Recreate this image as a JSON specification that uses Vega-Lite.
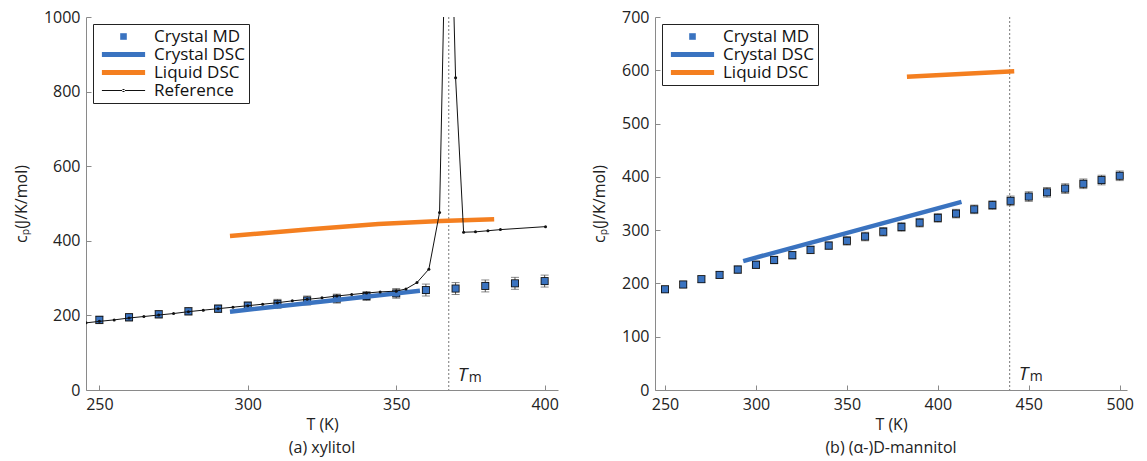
{
  "$schema": "https://vega.github.io/schema/vega-lite/v6.json",
  "padding": {"left": 13, "top": 9, "right": 5, "bottom": 5},
  "spacing": 32,
  "datasets": {
    "one": [{}],
    "mdA": [
      {"T": 250, "cp": 188, "lo": 178, "hi": 198, "series": "Crystal MD"},
      {"T": 260, "cp": 195, "lo": 185, "hi": 205, "series": "Crystal MD"},
      {"T": 270, "cp": 203, "lo": 193, "hi": 213, "series": "Crystal MD"},
      {"T": 280, "cp": 211, "lo": 201, "hi": 221, "series": "Crystal MD"},
      {"T": 290, "cp": 218, "lo": 208, "hi": 228, "series": "Crystal MD"},
      {"T": 300, "cp": 226, "lo": 216, "hi": 236, "series": "Crystal MD"},
      {"T": 310, "cp": 231, "lo": 219, "hi": 243, "series": "Crystal MD"},
      {"T": 320, "cp": 240, "lo": 228, "hi": 252, "series": "Crystal MD"},
      {"T": 330, "cp": 245, "lo": 233, "hi": 257, "series": "Crystal MD"},
      {"T": 340, "cp": 252, "lo": 240, "hi": 264, "series": "Crystal MD"},
      {"T": 350, "cp": 259, "lo": 246, "hi": 272, "series": "Crystal MD"},
      {"T": 360, "cp": 268, "lo": 252, "hi": 284, "series": "Crystal MD"},
      {"T": 370, "cp": 272, "lo": 256, "hi": 288, "series": "Crystal MD"},
      {"T": 380, "cp": 279, "lo": 263, "hi": 295, "series": "Crystal MD"},
      {"T": 390, "cp": 286, "lo": 270, "hi": 302, "series": "Crystal MD"},
      {"T": 400, "cp": 292, "lo": 276, "hi": 308, "series": "Crystal MD"}
    ],
    "dscA": [
      {"T": 294, "cp": 210, "series": "Crystal DSC"},
      {"T": 326, "cp": 238, "series": "Crystal DSC"},
      {"T": 358, "cp": 266, "series": "Crystal DSC"}
    ],
    "liqA": [
      {"T": 294, "cp": 413, "series": "Liquid DSC"},
      {"T": 320, "cp": 430, "series": "Liquid DSC"},
      {"T": 344, "cp": 445, "series": "Liquid DSC"},
      {"T": 365, "cp": 453, "series": "Liquid DSC"},
      {"T": 383, "cp": 458, "series": "Liquid DSC"}
    ],
    "refA": [
      {"T": 245.5, "cp": 180, "series": "Reference"},
      {"T": 250, "cp": 184, "series": "Reference"},
      {"T": 255, "cp": 188, "series": "Reference"},
      {"T": 260, "cp": 193, "series": "Reference"},
      {"T": 265, "cp": 197, "series": "Reference"},
      {"T": 270, "cp": 201, "series": "Reference"},
      {"T": 275, "cp": 205, "series": "Reference"},
      {"T": 280, "cp": 210, "series": "Reference"},
      {"T": 285, "cp": 214, "series": "Reference"},
      {"T": 290, "cp": 218, "series": "Reference"},
      {"T": 295, "cp": 222, "series": "Reference"},
      {"T": 300, "cp": 226, "series": "Reference"},
      {"T": 305, "cp": 230, "series": "Reference"},
      {"T": 310, "cp": 234, "series": "Reference"},
      {"T": 315, "cp": 239, "series": "Reference"},
      {"T": 320, "cp": 243, "series": "Reference"},
      {"T": 325, "cp": 247, "series": "Reference"},
      {"T": 330, "cp": 252, "series": "Reference"},
      {"T": 335, "cp": 256, "series": "Reference"},
      {"T": 340, "cp": 260, "series": "Reference"},
      {"T": 344.6, "cp": 263, "series": "Reference"},
      {"T": 350, "cp": 265, "series": "Reference"},
      {"T": 353.3, "cp": 271, "series": "Reference"},
      {"T": 357, "cp": 288, "series": "Reference"},
      {"T": 361, "cp": 324, "series": "Reference"},
      {"T": 364.6, "cp": 476, "series": "Reference"},
      {"T": 367.5, "cp": 1600, "series": "Reference"},
      {"T": 370, "cp": 837, "series": "Reference"},
      {"T": 372.7, "cp": 423, "series": "Reference"},
      {"T": 376.7, "cp": 424, "series": "Reference"},
      {"T": 380.9, "cp": 427, "series": "Reference"},
      {"T": 385.1, "cp": 430, "series": "Reference"},
      {"T": 400.3, "cp": 438, "series": "Reference"}
    ],
    "mdB": [
      {"T": 250, "cp": 189, "lo": 183, "hi": 195, "series": "Crystal MD"},
      {"T": 260, "cp": 198, "lo": 192, "hi": 204, "series": "Crystal MD"},
      {"T": 270, "cp": 208, "lo": 202, "hi": 214, "series": "Crystal MD"},
      {"T": 280, "cp": 216, "lo": 210, "hi": 222, "series": "Crystal MD"},
      {"T": 290, "cp": 226, "lo": 219, "hi": 233, "series": "Crystal MD"},
      {"T": 300, "cp": 235, "lo": 228, "hi": 242, "series": "Crystal MD"},
      {"T": 310, "cp": 244, "lo": 237, "hi": 251, "series": "Crystal MD"},
      {"T": 320, "cp": 253, "lo": 246, "hi": 260, "series": "Crystal MD"},
      {"T": 330, "cp": 263, "lo": 256, "hi": 270, "series": "Crystal MD"},
      {"T": 340, "cp": 271, "lo": 264, "hi": 278, "series": "Crystal MD"},
      {"T": 350, "cp": 280, "lo": 272, "hi": 288, "series": "Crystal MD"},
      {"T": 360, "cp": 288, "lo": 280, "hi": 296, "series": "Crystal MD"},
      {"T": 370, "cp": 297, "lo": 289, "hi": 305, "series": "Crystal MD"},
      {"T": 380, "cp": 306, "lo": 298, "hi": 314, "series": "Crystal MD"},
      {"T": 390, "cp": 314, "lo": 306, "hi": 322, "series": "Crystal MD"},
      {"T": 400, "cp": 323, "lo": 315, "hi": 331, "series": "Crystal MD"},
      {"T": 410, "cp": 331, "lo": 323, "hi": 339, "series": "Crystal MD"},
      {"T": 420, "cp": 339, "lo": 331, "hi": 347, "series": "Crystal MD"},
      {"T": 430, "cp": 347, "lo": 339, "hi": 355, "series": "Crystal MD"},
      {"T": 440, "cp": 355, "lo": 346, "hi": 364, "series": "Crystal MD"},
      {"T": 450, "cp": 363, "lo": 354, "hi": 372, "series": "Crystal MD"},
      {"T": 460, "cp": 371, "lo": 362, "hi": 380, "series": "Crystal MD"},
      {"T": 470, "cp": 378, "lo": 369, "hi": 387, "series": "Crystal MD"},
      {"T": 480, "cp": 387, "lo": 378, "hi": 396, "series": "Crystal MD"},
      {"T": 490, "cp": 394, "lo": 385, "hi": 403, "series": "Crystal MD"},
      {"T": 500, "cp": 402, "lo": 393, "hi": 411, "series": "Crystal MD"}
    ],
    "dscB": [
      {"T": 293, "cp": 242, "series": "Crystal DSC"},
      {"T": 413, "cp": 353, "series": "Crystal DSC"}
    ],
    "liqB": [
      {"T": 383, "cp": 588, "series": "Liquid DSC"},
      {"T": 442, "cp": 598, "series": "Liquid DSC"}
    ]
  },
  "config": {
    "font": "Open Sans",
    "view": {"stroke": null},
    "axis": {
      "grid": false,
      "domainColor": "#8a8a8a",
      "tickColor": "#8a8a8a",
      "tickSize": -5,
      "labelPadding": 11,
      "labelFontSize": 16,
      "labelColor": "#222",
      "titleFontSize": 16,
      "titleFontWeight": "normal",
      "titleColor": "#222",
      "format": "d"
    },
    "legend": {
      "orient": "top-left",
      "offset": 7,
      "strokeColor": "#222",
      "fillColor": "white",
      "padding": 4,
      "labelFontSize": 17,
      "labelColor": "#111",
      "symbolSize": 144,
      "symbolStrokeWidth": 0,
      "symbolOpacity": 1,
      "symbolOffset": 18,
      "rowPadding": 0,
      "labelOffset": 22
    },
    "title": {"fontSize": 16, "fontWeight": "normal", "color": "#222", "orient": "bottom", "offset": 8}
  },
  "resolve": {"scale": {"color": "independent", "shape": "independent", "x": "independent", "y": "independent"}, "legend": {"color": "independent", "shape": "independent"}},
  "hconcat": [
    {
      "width": 472,
      "height": 373,
      "title": {"text": "(a) xylitol"},
      "layer": [
        {
          "data": {"name": "one"},
          "mark": {"type": "rule", "color": "#777", "strokeDash": [2, 2], "strokeWidth": 1},
          "encoding": {"x": {"datum": 367.7, "type": "quantitative"}}
        },
        {
          "data": {"name": "mdA"},
          "mark": {"type": "errorbar", "ticks": {"size": 8}, "color": "#555", "thickness": 1},
          "encoding": {
            "x": {"field": "T", "type": "quantitative", "scale": {"domain": [245.5, 404.5], "nice": false, "zero": false}, "axis": {"values": [250, 300, 350, 400], "title": "T (K)", "titlePadding": 4}},
            "y": {"field": "lo", "type": "quantitative", "scale": {"domain": [0, 1000], "nice": false}, "axis": {"values": [0,100,200,300,400,500,600,700,800,900,1000], "title": "cₚ(J/K/mol)", "titlePadding": 14}},
            "y2": {"field": "hi"}
          }
        },
        {
          "data": {"name": "mdA"},
          "mark": {"type": "point", "shape": "square", "filled": true, "size": 64, "color": "#111", "opacity": 1},
          "encoding": {
            "x": {"field": "T", "type": "quantitative"},
            "y": {"field": "cp", "type": "quantitative"}
          }
        },
        {
          "data": {"name": "mdA"},
          "mark": {"type": "point", "filled": true, "size": 130, "opacity": 1},
          "encoding": {
            "x": {"field": "T", "type": "quantitative"},
            "y": {"field": "cp", "type": "quantitative"},
            "color": {
              "field": "series", "type": "nominal",
              "scale": {"domain": ["Crystal MD", "Crystal DSC", "Liquid DSC", "Reference"], "range": ["#3a73c0", "#3a73c0", "#f47f20", "#111111"]},
              "legend": {"title": null}
            },
            "shape": {
              "field": "series", "type": "nominal",
              "scale": {"domain": ["Crystal MD", "Crystal DSC", "Liquid DSC", "Reference"], "range": ["M-0.55,-0.55H0.55V0.55H-0.55Z", "M-3.6,-0.4H3.6V0.4H-3.6Z", "M-3.6,-0.4H3.6V0.4H-3.6Z", "M-3.6,-0.07H3.6V0.07H-3.6ZM-0.25,0A0.25,0.25,0,1,0,0.25,0A0.25,0.25,0,1,0,-0.25,0Z"]},
              "legend": {"title": null}
            }
          }
        },
        {
          "data": {"name": "dscA"},
          "mark": {"type": "line", "strokeWidth": 4.5},
          "encoding": {
            "x": {"field": "T", "type": "quantitative"},
            "y": {"field": "cp", "type": "quantitative"},
            "color": {"field": "series", "type": "nominal"}
          }
        },
        {
          "data": {"name": "liqA"},
          "mark": {"type": "line", "strokeWidth": 4.5},
          "encoding": {
            "x": {"field": "T", "type": "quantitative"},
            "y": {"field": "cp", "type": "quantitative"},
            "color": {"field": "series", "type": "nominal"}
          }
        },
        {
          "data": {"name": "refA"},
          "mark": {"type": "line", "strokeWidth": 1, "clip": true},
          "encoding": {
            "x": {"field": "T", "type": "quantitative"},
            "y": {"field": "cp", "type": "quantitative"},
            "color": {"field": "series", "type": "nominal"}
          }
        },
        {
          "data": {"name": "refA"},
          "mark": {"type": "point", "shape": "circle", "filled": true, "size": 9, "clip": true, "opacity": 1},
          "encoding": {
            "x": {"field": "T", "type": "quantitative"},
            "y": {"field": "cp", "type": "quantitative"},
            "color": {"field": "series", "type": "nominal"}
          }
        },
        {
          "data": {"name": "one"},
          "mark": {"type": "text", "text": "T", "fontStyle": "italic", "fontSize": 19, "align": "left", "baseline": "middle", "dx": 9, "color": "#222"},
          "encoding": {"x": {"datum": 367.7, "type": "quantitative"}, "y": {"datum": 40, "type": "quantitative"}}
        },
        {
          "data": {"name": "one"},
          "mark": {"type": "text", "text": "m", "fontSize": 14, "align": "left", "baseline": "middle", "dx": 20, "dy": 3, "color": "#222"},
          "encoding": {"x": {"datum": 367.7, "type": "quantitative"}, "y": {"datum": 40, "type": "quantitative"}}
        }
      ]
    },
    {
      "width": 472,
      "height": 373,
      "title": {"text": "(b) (α-)D-mannitol"},
      "layer": [
        {
          "data": {"name": "one"},
          "mark": {"type": "rule", "color": "#777", "strokeDash": [2, 2], "strokeWidth": 1},
          "encoding": {"x": {"datum": 439.5, "type": "quantitative"}}
        },
        {
          "data": {"name": "mdB"},
          "mark": {"type": "errorbar", "ticks": {"size": 8}, "color": "#555", "thickness": 1},
          "encoding": {
            "x": {"field": "T", "type": "quantitative", "scale": {"domain": [244.5, 504], "nice": false, "zero": false}, "axis": {"values": [250, 300, 350, 400, 450, 500], "title": "T (K)", "titlePadding": 4}},
            "y": {"field": "lo", "type": "quantitative", "scale": {"domain": [0, 700], "nice": false}, "axis": {"values": [0,100,200,300,400,500,600,700], "title": "cₚ(J/K/mol)", "titlePadding": 14}},
            "y2": {"field": "hi"}
          }
        },
        {
          "data": {"name": "mdB"},
          "mark": {"type": "point", "shape": "square", "filled": true, "size": 64, "color": "#111", "opacity": 1},
          "encoding": {
            "x": {"field": "T", "type": "quantitative"},
            "y": {"field": "cp", "type": "quantitative"}
          }
        },
        {
          "data": {"name": "mdB"},
          "mark": {"type": "point", "filled": true, "size": 130, "opacity": 1},
          "encoding": {
            "x": {"field": "T", "type": "quantitative"},
            "y": {"field": "cp", "type": "quantitative"},
            "color": {
              "field": "series", "type": "nominal",
              "scale": {"domain": ["Crystal MD", "Crystal DSC", "Liquid DSC"], "range": ["#3a73c0", "#3a73c0", "#f47f20"]},
              "legend": {"title": null}
            },
            "shape": {
              "field": "series", "type": "nominal",
              "scale": {"domain": ["Crystal MD", "Crystal DSC", "Liquid DSC"], "range": ["M-0.55,-0.55H0.55V0.55H-0.55Z", "M-3.6,-0.4H3.6V0.4H-3.6Z", "M-3.6,-0.4H3.6V0.4H-3.6Z"]},
              "legend": {"title": null}
            }
          }
        },
        {
          "data": {"name": "dscB"},
          "mark": {"type": "line", "strokeWidth": 4.5},
          "encoding": {
            "x": {"field": "T", "type": "quantitative"},
            "y": {"field": "cp", "type": "quantitative"},
            "color": {"field": "series", "type": "nominal"}
          }
        },
        {
          "data": {"name": "liqB"},
          "mark": {"type": "line", "strokeWidth": 4.5},
          "encoding": {
            "x": {"field": "T", "type": "quantitative"},
            "y": {"field": "cp", "type": "quantitative"},
            "color": {"field": "series", "type": "nominal"}
          }
        },
        {
          "data": {"name": "one"},
          "mark": {"type": "text", "text": "T", "fontStyle": "italic", "fontSize": 19, "align": "left", "baseline": "middle", "dx": 9, "color": "#222"},
          "encoding": {"x": {"datum": 439.5, "type": "quantitative"}, "y": {"datum": 30, "type": "quantitative"}}
        },
        {
          "data": {"name": "one"},
          "mark": {"type": "text", "text": "m", "fontSize": 14, "align": "left", "baseline": "middle", "dx": 20, "dy": 3, "color": "#222"},
          "encoding": {"x": {"datum": 439.5, "type": "quantitative"}, "y": {"datum": 30, "type": "quantitative"}}
        }
      ]
    }
  ]
}
